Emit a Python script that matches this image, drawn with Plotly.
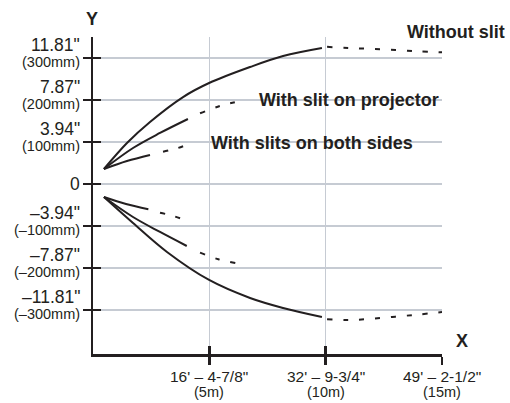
import plotly.graph_objects as go

# ---- data (x in metres, y in mm) ----
ytick_vals = [300, 200, 100, 0, -100, -200, -300]
ytick_top = ['11.81"', '7.87"', '3.94"', '0', '–3.94"', '–7.87"', '–11.81"']
ytick_bot = ['(300mm)', '(200mm)', '(100mm)', '', '(–100mm)', '(–200mm)', '(–300mm)']
xtick_vals = [5, 10, 15]
xtick_top = ["16' – 4-7/8\"", "32' – 9-3/4\"", "49' – 2-1/2\""]
xtick_bot = ['(5m)', '(10m)', '(15m)']

# Without slit (upper)
ws_up_solid_x = [0.47, 1.46, 2.45, 3.87, 4.99, 6.75, 8.17, 9.84]
ws_up_solid_y = [35.6, 97.5, 147.6, 207, 240.4, 278.5, 304.7, 323.8]
ws_up_dash_x = [10.06, 11.0, 12.0, 13.0, 14.0, 15.0]
ws_up_dash_y = [326.5, 324, 321.5, 319, 316, 313.5]
# Without slit (lower)
ws_lo_solid_x = [0.47, 1.72, 3.18, 4.99, 6.75, 8.17, 9.84]
ws_lo_solid_y = [-31.1, -93, -162, -228.7, -271.6, -295.4, -316.9]
ws_lo_dash_x = [10.06, 11.0, 12.0, 13.0, 14.0, 15.0]
ws_lo_dash_y = [-322, -324, -321, -316, -311, -305]
# With slit on projector
sp_up_solid_x = [0.47, 1.72, 2.88, 4.08]
sp_up_solid_y = [35.6, 85.6, 121.4, 154.7]
sp_up_dash_x = [4.6, 5.46, 6.32]
sp_up_dash_y = [168.3, 185.7, 197.6]
sp_lo_solid_x = [0.47, 1.72, 2.88, 4.03]
sp_lo_solid_y = [-31.1, -78.7, -114.4, -147.8]
sp_lo_dash_x = [4.6, 5.39, 6.18]
sp_lo_dash_y = [-163.7, -179.4, -189]
# With slits on both sides
sb_up_solid_x = [0.47, 1.46, 2.45]
sb_up_solid_y = [35.6, 54.5, 69]
sb_up_dash_x = [3.01, 3.61, 4.08]
sb_up_dash_y = [76.8, 84.9, 94.4]
sb_lo_solid_x = [0.47, 1.42, 2.38]
sb_lo_solid_y = [-31.1, -47.7, -60.4]
sb_lo_dash_x = [2.88, 3.45, 4.03]
sb_lo_dash_y = [-68.5, -76.3, -87.5]

labels = ['With slit on projector', 'With slits on both sides']
label_x = [7.05, 4.99]
label_y = [200, 97]
top_label = 'Without slit'
top_label_x = 13.41

INK = '#231f20'
GRID = '#c6cbd3'
FONT = 'Liberation Sans'

fig = go.Figure()

def solid(x, y):
    fig.add_trace(go.Scatter(x=x, y=y, mode='lines', line=dict(color=INK, width=2, shape='spline'),
                             hoverinfo='skip', showlegend=False))

def dashed(x, y):
    fig.add_trace(go.Scatter(x=x, y=y, mode='lines',
                             line=dict(color=INK, width=2, shape='spline', dash='5px,11px'),
                             hoverinfo='skip', showlegend=False))

for sx, sy, dx, dy in [
    (ws_up_solid_x, ws_up_solid_y, ws_up_dash_x, ws_up_dash_y),
    (ws_lo_solid_x, ws_lo_solid_y, ws_lo_dash_x, ws_lo_dash_y),
    (sp_up_solid_x, sp_up_solid_y, sp_up_dash_x, sp_up_dash_y),
    (sp_lo_solid_x, sp_lo_solid_y, sp_lo_dash_x, sp_lo_dash_y),
    (sb_up_solid_x, sb_up_solid_y, sb_up_dash_x, sb_up_dash_y),
    (sb_lo_solid_x, sb_lo_solid_y, sb_lo_dash_x, sb_lo_dash_y),
]:
    solid(sx, sy)
    dashed(dx, dy)

annotations = []
for v, t, b in zip(ytick_vals, ytick_top, ytick_bot):
    if b:
        annotations.append(dict(x=0, y=v, xref='x', yref='y', text=t, showarrow=False,
                                xanchor='right', yanchor='middle', xshift=-11, yshift=12.5,
                                font=dict(family=FONT, size=17.5, color=INK)))
        annotations.append(dict(x=0, y=v, xref='x', yref='y', text=b, showarrow=False,
                                xanchor='right', yanchor='middle', xshift=-11, yshift=-4,
                                font=dict(family=FONT, size=14.5, color=INK)))
    else:
        annotations.append(dict(x=0, y=v, xref='x', yref='y', text=t, showarrow=False,
                                xanchor='right', yanchor='middle', xshift=-11, yshift=0,
                                font=dict(family=FONT, size=17.5, color=INK)))
for v, t, b in zip(xtick_vals, xtick_top, xtick_bot):
    annotations.append(dict(x=v, y=0, xref='x', yref='paper', text=t, showarrow=False,
                            xanchor='center', yanchor='middle', yshift=-22,
                            font=dict(family=FONT, size=15.5, color=INK)))
    annotations.append(dict(x=v, y=0, xref='x', yref='paper', text=b, showarrow=False,
                            xanchor='center', yanchor='middle', yshift=-37.5,
                            font=dict(family=FONT, size=14.5, color=INK)))
for t, lx, ly in zip(labels, label_x, label_y):
    annotations.append(dict(x=lx, y=ly, xref='x', yref='y', text='<b>' + t + '</b>', showarrow=False,
                            xanchor='left', yanchor='middle',
                            font=dict(family=FONT, size=18, color=INK)))
annotations.append(dict(x=top_label_x, y=1, xref='x', yref='paper', text='<b>' + top_label + '</b>',
                        showarrow=False, xanchor='left', yanchor='middle', yshift=5.5,
                        font=dict(family=FONT, size=18, color=INK)))
annotations.append(dict(x=0, y=1, xref='x', yref='paper', text='<b>Y</b>', showarrow=False,
                        xanchor='center', yanchor='middle', xshift=-1.5, yshift=18,
                        font=dict(family=FONT, size=18, color=INK)))
annotations.append(dict(x=15, y=0, xref='x', yref='paper', text='<b>X</b>', showarrow=False,
                        xanchor='center', yanchor='middle', xshift=20, yshift=13,
                        font=dict(family=FONT, size=18, color=INK)))

fig.update_layout(
    width=510, height=403,
    margin=dict(l=93, r=68, t=37, b=49),
    paper_bgcolor='white', plot_bgcolor='white',
    showlegend=False,
    annotations=annotations,
    xaxis=dict(range=[0, 15], tickvals=xtick_vals, showticklabels=False,
               showgrid=True, gridcolor=GRID, gridwidth=1.5, zeroline=False,
               showline=True, linecolor=INK, linewidth=2.5,
               ticks='outside', ticklen=8, tickwidth=2.5, tickcolor=INK, fixedrange=True),
    yaxis=dict(range=[-405, 350], tickvals=ytick_vals, showticklabels=False,
               showgrid=True, gridcolor=GRID, gridwidth=1.5, zeroline=False,
               showline=True, linecolor=INK, linewidth=2.5,
               ticks='outside', ticklen=8, tickwidth=2.5, tickcolor=INK, fixedrange=True),
    xaxis2=dict(range=[0, 15], overlaying='x', anchor='y', side='bottom', tickvals=xtick_vals,
                showticklabels=False, showgrid=False, zeroline=False, showline=False,
                ticks='inside', ticklen=8, tickwidth=2.5, tickcolor=INK, fixedrange=True),
    yaxis2=dict(range=[-405, 350], overlaying='y', anchor='x', side='left', tickvals=ytick_vals,
                showticklabels=False, showgrid=False, zeroline=False, showline=False,
                ticks='inside', ticklen=8, tickwidth=2.5, tickcolor=INK, fixedrange=True),
)
# invisible trace so the overlay axes are drawn
fig.add_trace(go.Scatter(x=[None], y=[None], xaxis='x2', yaxis='y2', showlegend=False, hoverinfo='skip'))

fig.write_html('out.html', config={'staticPlot': True},
               post_script="document.body.style.margin='0';")
